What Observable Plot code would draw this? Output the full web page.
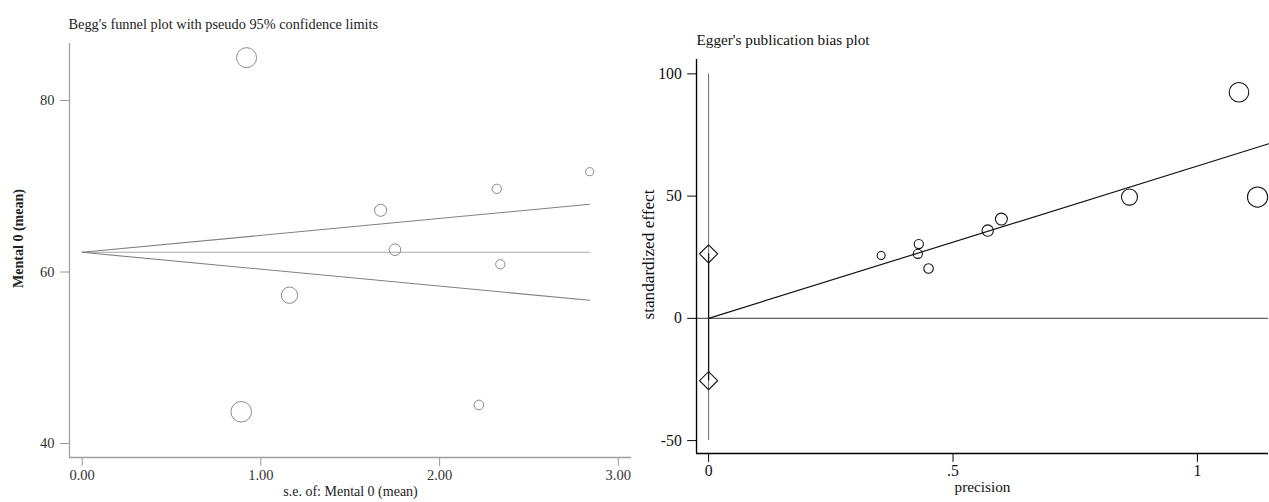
<!DOCTYPE html>
<html><head><meta charset="utf-8">
<script src="https://cdn.jsdelivr.net/npm/d3@7"></script>
<script src="https://cdn.jsdelivr.net/npm/@observablehq/plot@0.6"></script>
<style>
html,body{margin:0;padding:0;background:#fff;overflow:hidden;}
#wrap{position:relative;width:1269px;height:502px;overflow:hidden;background:#fff;}
#left,#right{position:absolute;top:0;}
#left{left:0;} #right{left:640px;}
#left svg [aria-label$="tick label"]{font-size:14.5px !important;}
#right svg [aria-label$="tick label"]{font-size:16px !important;}
</style></head><body><div id="wrap"><div id="left"></div><div id="right"></div></div>
<script>
// ---- Begg's funnel plot data ----
const beggSE = [0.92, 0.89, 1.16, 1.67, 1.75, 2.32, 2.34, 2.84, 2.22];
const beggMean = [85.0, 43.7, 57.3, 67.2, 62.6, 69.7, 60.9, 71.7, 44.5];
const funnelSE = [0, 2.84];
const funnelUpper = [62.3, 67.9];
const funnelCentre = [62.3, 62.3];
const funnelLower = [62.3, 56.7];
const beggXTicks = [0, 1, 2, 3];
const beggYTicks = [40, 60, 80];

// ---- Egger's publication bias plot data ----
const eggerPrecision = [1.085, 1.123, 0.861, 0.599, 0.571, 0.430, 0.428, 0.353, 0.450];
const eggerEffect = [92.5, 49.6, 49.6, 40.6, 35.9, 30.4, 26.4, 25.7, 20.4];
const eggerFitX = [0, 1.146];
const eggerFitY = [0, 71.4];
const eggerCI = [-25.5, 26.4];
const eggerRefRange = [-50, 100];
const eggerXTicks = [0, 0.5, 1];
const eggerXTickLabels = ["0", ".5", "1"];
const eggerYTicks = [-50, 0, 50, 100];
const eggerYTickLabels = ["-50", "0", "50", "100"];

const serif = '"Liberation Serif","Times New Roman",serif';

// ---------- Left: Begg ----------
const begg = beggSE.map((se, i) => ({se, mean: beggMean[i], prec: 1 / se}));
const funnel = funnelSE.map((se, i) => ({se, upper: funnelUpper[i], centre: funnelCentre[i], lower: funnelLower[i]}));
const bx0 = -0.071, bx1 = 3.074, by0 = 38.37, by1 = 86.65;

const left = Plot.plot({
  width: 640, height: 502,
  marginLeft: 69, marginRight: 9, marginTop: 43, marginBottom: 45,
  style: {fontFamily: serif, fontSize: "14px", color: "#222", background: "white", overflow: "visible"},
  x: {domain: [bx0, bx1]},
  y: {domain: [by0, by1]},
  r: {type: "linear", domain: [0, 1.2], range: [1.2, 10.9]},
  marks: [
    Plot.ruleX([bx0], {stroke: "#a0a0a0", strokeWidth: 1.3}),
    Plot.ruleY([by0], {stroke: "#a0a0a0", strokeWidth: 1.3}),
    Plot.line(funnel, {x: "se", y: "centre", stroke: "#a8a8a8", strokeWidth: 1.1}),
    Plot.line(funnel, {x: "se", y: "upper", stroke: "#808080", strokeWidth: 1.1}),
    Plot.line(funnel, {x: "se", y: "lower", stroke: "#808080", strokeWidth: 1.1}),
    Plot.dot(begg, {x: "se", y: "mean", r: "prec", stroke: "#8a8a8a", fill: "none", strokeWidth: 1}),
    Plot.axisY({ticks: beggYTicks, tickFormat: d => String(d), tickSize: 9, tickPadding: 6, stroke: "#999", fill: "#333", label: null}),
    Plot.axisX({ticks: beggXTicks, tickFormat: d => d.toFixed(2), tickSize: 9, tickPadding: 3, stroke: "#999", fill: "#333", label: null}),
    Plot.text(["Begg's funnel plot with pseudo 95% confidence limits"], {frameAnchor: "top-left", dx: -1, dy: -19, textAnchor: "start", lineAnchor: "middle", fontSize: 14.3, fill: "#222"}),
    Plot.text(["s.e. of: Mental 0 (mean)"], {frameAnchor: "bottom", dy: 34.5, textAnchor: "middle", lineAnchor: "middle", fontSize: 14, fill: "#222"}),
    Plot.text(["Mental 0 (mean)"], {frameAnchor: "left", dx: -51, dy: -12, rotate: -90, textAnchor: "middle", lineAnchor: "middle", fontSize: 14, fontWeight: "bold", fill: "#222"})
  ]
});
document.getElementById("left").append(left);

// ---------- Right: Egger ----------
const egger = eggerPrecision.map((p, i) => ({prec: p, eff: eggerEffect[i]}));
const fit = eggerFitX.map((x, i) => ({x, y: eggerFitY[i]}));
const ex0 = -0.0247, ex1 = 1.1454, ey0 = -55.3, ey1 = 105.9;

const right = Plot.plot({
  width: 640, height: 502,
  marginLeft: 57, marginRight: 1, marginTop: 60, marginBottom: 41,
  style: {fontFamily: serif, fontSize: "15px", color: "#111", background: "white", overflow: "visible"},
  x: {domain: [ex0, ex1]},
  y: {domain: [ey0, ey1]},
  r: {type: "linear", domain: [0, 1.2], range: [1.2, 10.9]},
  marks: [
    Plot.ruleY([0], {stroke: "#606060", strokeWidth: 1.4}),
    Plot.ruleX([0], {y1: eggerRefRange[0], y2: eggerRefRange[1], stroke: "#6a6a6a", strokeWidth: 1}),
    Plot.ruleX([0], {y1: eggerCI[0], y2: eggerCI[1], stroke: "#111", strokeWidth: 1.3}),
    Plot.dot(eggerCI, {x: () => 0, y: d => d, symbol: "diamond2", r: 8.3, stroke: "#111", fill: "none", strokeWidth: 1.1}),
    Plot.line(fit, {x: "x", y: "y", stroke: "#111", strokeWidth: 1.2}),
    Plot.dot(egger, {x: "prec", y: "eff", r: "prec", stroke: "#111", fill: "none", strokeWidth: 1.1}),
    Plot.ruleX([ex0], {stroke: "#000", strokeWidth: 1.4}),
    Plot.ruleY([ey0], {stroke: "#000", strokeWidth: 1.4}),
    Plot.axisY({ticks: eggerYTicks, tickFormat: d => eggerYTickLabels[eggerYTicks.indexOf(d)], tickSize: 9, tickPadding: 6, stroke: "#000", fill: "#111", label: null}),
    Plot.axisX({ticks: eggerXTicks, tickFormat: d => eggerXTickLabels[eggerXTicks.indexOf(d)], tickSize: 9, tickPadding: 2, stroke: "#000", fill: "#111", label: null}),
    Plot.text(["Egger's publication bias plot"], {frameAnchor: "top-left", dx: 0, dy: -20, textAnchor: "start", lineAnchor: "middle", fontSize: 15.5, fill: "#111"}),
    Plot.text(["precision"], {frameAnchor: "bottom", dy: 34, textAnchor: "middle", lineAnchor: "middle", fontSize: 15.5, fill: "#111"}),
    Plot.text(["standardized effect"], {frameAnchor: "left", dx: -49, dy: -2, rotate: -90, textAnchor: "middle", lineAnchor: "middle", fontSize: 17.5, fill: "#111"})
  ]
});
document.getElementById("right").append(right);
</script></body></html>
